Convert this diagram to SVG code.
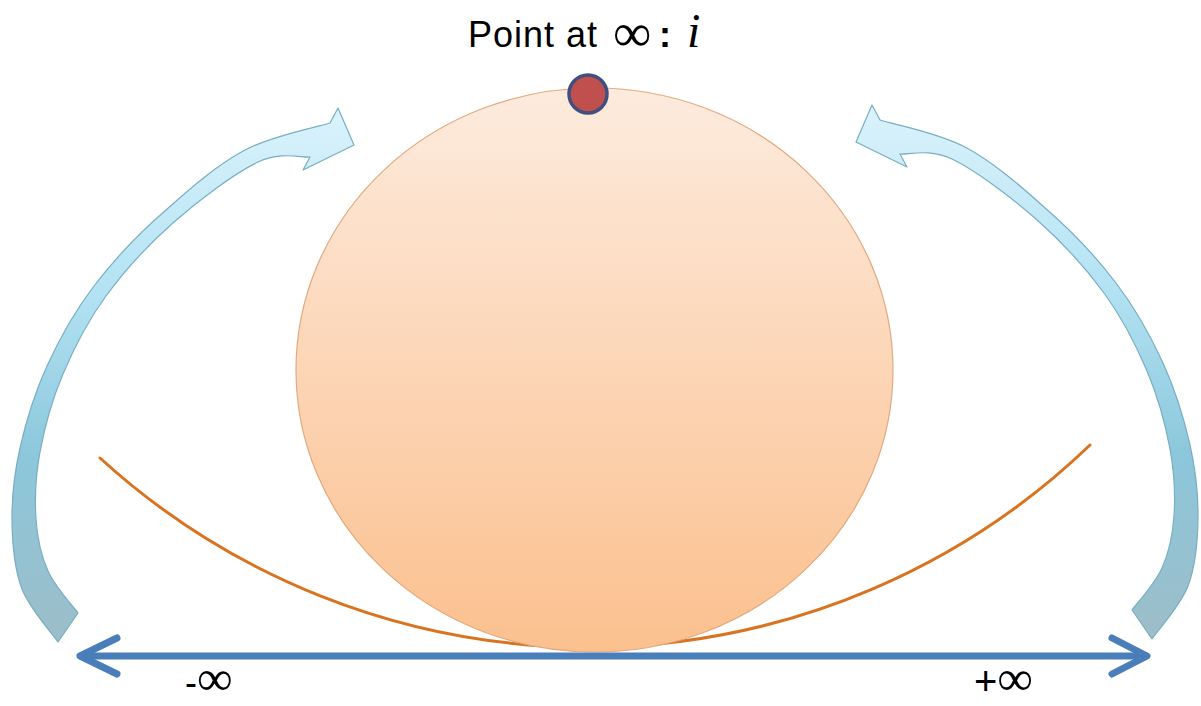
<svg xmlns="http://www.w3.org/2000/svg" width="1201" height="706" viewBox="0 0 1201 706">
<defs>
<linearGradient id="ballG" x1="0" y1="0" x2="0" y2="1">
<stop offset="0" stop-color="#FDEBDE"/>
<stop offset="1" stop-color="#FBC08E"/>
</linearGradient>
<linearGradient id="arrG" gradientUnits="userSpaceOnUse" x1="0" y1="105" x2="0" y2="645">
<stop offset="0" stop-color="#DCF3FC"/>
<stop offset="0.35" stop-color="#B2E2F3"/>
<stop offset="0.65" stop-color="#8CC7DB"/>
<stop offset="1" stop-color="#9DBDC8"/>
</linearGradient>
<path id="arrowShape" d="M58,642 C52,633 29.7,609 22,589 C14.3,568.8 12.3,544.5 12,521 C11.7,497.5 14.2,473.8 20,448 C25.8,422.2 34.7,393 47,366 C59.3,339 74.2,312 94,286 C113.8,260 140.5,232 166,210 C191.2,187.3 217.7,164.5 245,150 C272.3,135.5 315.8,127.5 330,123 L338,108 L354,145 L303,170 L310,157 C301.3,157.8 280.7,151.2 258,162 C235.3,172.8 199.3,199.7 174,222 C148.7,244.3 124.5,270.7 106,296 C87.5,321.3 74,348 63,374 C52,400 44.5,427.8 40,452 C35.5,476.2 34.7,499.2 36,519 C37.3,538.8 41,555.3 48,571 C55,586.7 73,606.3 78,613 Z"/>
<style>
.curvedArrow{fill:url(#arrG);stroke:#78AEC2;stroke-width:1.2;stroke-linejoin:round}
.axis{fill:none;stroke:#4A7EBB;stroke-width:7;stroke-linecap:round;stroke-linejoin:round}
.lbl{font-family:"Liberation Sans",Arial,sans-serif;fill:#000}
.math{font-family:"Liberation Serif","Times New Roman",serif;fill:#000}
</style>
</defs>
<rect width="1201" height="706" fill="#FFFFFF"/>
<g id="connectors">
<use id="leftArrow" class="curvedArrow" href="#arrowShape"/>
<use id="rightArrow" class="curvedArrow" href="#arrowShape" transform="translate(1210,-3) scale(-1,1)"/>
<path id="projectionCurve" d="M100,458 A724,724 0 0 0 1090,445" fill="none" stroke="#D9731F" stroke-width="3" stroke-linecap="round"/>
</g>
<g id="circleNode">
<ellipse cx="594.5" cy="370" rx="298.5" ry="282" fill="url(#ballG)" stroke="#E2A97E" stroke-width="1.2"/>
</g>
<g id="realAxis">
<line class="axis" x1="82" y1="656" x2="1144" y2="656"/>
<polyline class="axis" points="117,638 80,656 117,674"/>
<polyline class="axis" points="1112,638 1147,656 1112,674"/>
</g>
<g id="pointInfinity">
<circle cx="588" cy="94" r="19" fill="#C0504D" stroke="#3E4F80" stroke-width="3.5"/>
</g>
<g id="title">
<text class="lbl" y="47" font-size="36"><tspan x="468" letter-spacing="1">Point at</tspan><tspan class="math" x="613" y="51" font-size="54">∞</tspan><tspan x="659" y="47" font-weight="bold">:</tspan><tspan class="math" x="687" font-style="italic" font-size="48">i</tspan></text>
</g>
<g id="labelMinus">
<text class="lbl" x="185" y="695" font-size="36">-<tspan class="math" font-size="50">∞</tspan></text>
</g>
<g id="labelPlus">
<text class="lbl" x="974" y="695" font-size="40">+<tspan class="math" font-size="50">∞</tspan></text>
</g>
</svg>
